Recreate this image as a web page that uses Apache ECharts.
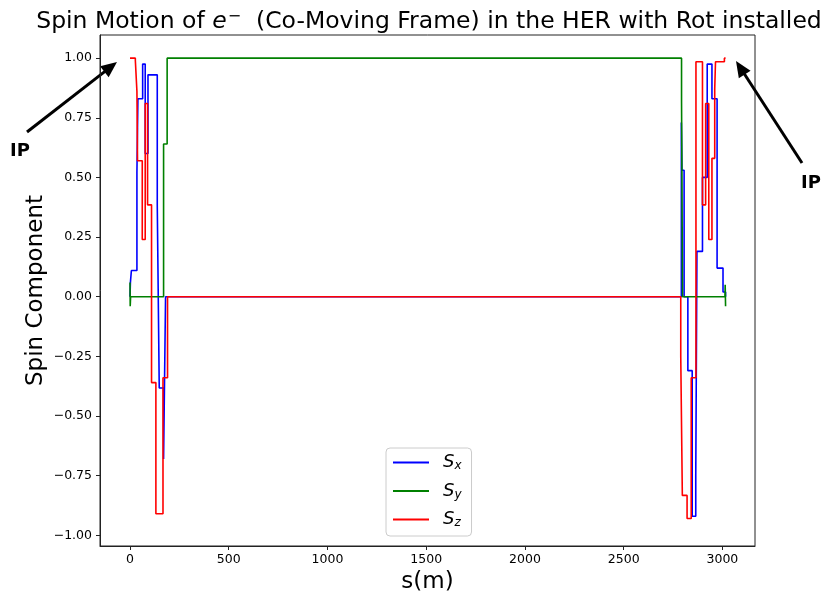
<!DOCTYPE html>
<html><head><meta charset="utf-8">
<script src="https://cdn.jsdelivr.net/npm/echarts@6/dist/echarts.min.js"></script>
<style>html,body{margin:0;padding:0;background:#fff}#c{width:831px;height:595px}</style>
</head><body><div id="c"></div>
<script>
// ---- data (s in metres, spin component value) ----
const xTicks = [0, 500, 1000, 1500, 2000, 2500, 3000];
const yTicks = [-1, -0.75, -0.5, -0.25, 0, 0.25, 0.5, 0.75, 1];
const seriesNames = ['Sx', 'Sy', 'Sz'];
const sxData = [
  [0, 0.0], [2, 0.06], [7, 0.11], [35, 0.52], [40, 0.83], [64, 0.975], [77, 0.6], [91, 0.93],
  [138, 0.385], [148, -0.383], [170, -0.68], [180, 0.0],
  [2792, 0.73], [2795, 0.53], [2806, 0.0], [2825, -0.31], [2847, -0.92], [2865, -0.75], [2871, 0.19],
  [2899, 0.5], [2923, 0.975], [2947, 0.83], [2973, 0.12], [3003, 0.02], [3016, 0.0]
];
const syData = [
  [0, 0.06], [1, -0.04], [3, 0.0], [170, 0.64], [188, 1.0],
  [2793, 0.82], [2798, 0.0], [3013, 0.0], [3014, 0.05], [3016, -0.04]
];
const szData = [
  [0, 1.0], [27, 0.99], [35, 0.86], [38, 0.57], [62, 0.24], [77, 0.81], [89, 0.385],
  [109, -0.36], [131, -0.91], [167, -0.34], [190, 0.0],
  [2789, -0.25], [2797, -0.833], [2821, -0.93], [2842, -0.34], [2866, 0.985], [2899, 0.385],
  [2915, 0.81], [2931, 0.24], [2947, 0.58], [2961, 0.87], [2965, 0.985], [3010, 1.0], [3016, 1.0]
];
const seriesColors = ['#0000ff', '#008000', '#ff0000'];

const FONT = 'DejaVu Sans';
const chart = echarts.init(document.getElementById('c'), null, {renderer: 'canvas'});

function arrow(x1, y1, x2, y2) {
  const dx = x2 - x1, dy = y2 - y1, L = Math.hypot(dx, dy);
  const ux = dx / L, uy = dy / L, hl = 16, hw = 7;
  const bx = x2 - ux * hl, by = y2 - uy * hl;
  return [
    {type: 'line', shape: {x1: x1, y1: y1, x2: bx + ux * 2, y2: by + uy * 2}, style: {stroke: '#000', lineWidth: 3}},
    {type: 'polygon', shape: {points: [[x2, y2], [bx - uy * hw, by + ux * hw], [bx + uy * hw, by - ux * hw]]}, style: {fill: '#000'}}
  ];
}

const minusFmt = v => v.toFixed(2).replace('-', '\u2212');

chart.setOption({
  animation: false,
  backgroundColor: '#fff',
  title: {
    text: '{t|Spin Motion of }{e|e}{sup|\u2212}{t|  (Co-Moving Frame) in the HER with Rot installed}',
    left: 424, top: 4, textAlign: 'center',
    textStyle: {
      fontWeight: 'normal',
      rich: {
        t: {fontFamily: FONT, fontSize: 23.5, fontWeight: 'normal', color: '#000'},
        e: {fontFamily: FONT, fontSize: 23.5, fontWeight: 'normal', fontStyle: 'italic', color: '#000'},
        sup: {fontFamily: FONT, fontSize: 16, fontWeight: 'normal', color: '#000', padding: [0, 0, 10, 1]}
      }
    }
  },
  grid: {left: 100, right: 76, top: 35, bottom: 49, show: true, borderColor: '#222', borderWidth: 1,
         containLabel: false, outerBoundsMode: 'none'},
  legend: {
    data: seriesNames,
    orient: 'vertical', left: 386, top: 448,
    icon: 'rect', itemWidth: 36, itemHeight: 2, itemGap: 9.5,
    padding: [5, 10, 7, 7],
    borderColor: '#ccc', borderWidth: 1, borderRadius: 4, backgroundColor: '#fff',
    formatter: n => '{s|S}{sub|' + n.slice(1) + '}',
    textStyle: {
      rich: {
        s: {fontFamily: FONT, fontSize: 18, fontStyle: 'italic', color: '#000', padding: [0, 0, 0, 9], lineHeight: 20},
        sub: {fontFamily: FONT, fontSize: 12, fontStyle: 'italic', color: '#000', padding: [7, 0, 0, 0], lineHeight: 20}
      }
    }
  },
  xAxis: {
    type: 'value', min: -152, max: 3165,
    name: 's(m)', nameLocation: 'middle', nameGap: 24,
    nameTextStyle: {fontFamily: FONT, fontSize: 23, color: '#000'},
    axisLine: {show: true, onZero: false, lineStyle: {color: '#222'}},
    axisTick: {show: true, customValues: xTicks, length: 4, lineStyle: {color: '#222'}},
    axisLabel: {customValues: xTicks, formatter: v => String(v), fontFamily: FONT, fontSize: 12.5, color: '#000', margin: 7},
    splitLine: {show: false}
  },
  yAxis: {
    type: 'value', min: -1.045, max: 1.097,
    name: 'Spin Component', nameLocation: 'middle', nameGap: 52, nameMoveOverlap: false,
    nameTextStyle: {fontFamily: FONT, fontSize: 23, color: '#000'},
    axisLine: {show: true, onZero: false, lineStyle: {color: '#222'}},
    axisTick: {show: true, customValues: yTicks, length: 4, lineStyle: {color: '#222'}},
    axisLabel: {customValues: yTicks, formatter: minusFmt, fontFamily: FONT, fontSize: 12.5, color: '#000', margin: 8},
    splitLine: {show: false}
  },
  series: [sxData, syData, szData].map((d, i) => ({
    name: seriesNames[i], type: 'line', step: 'end', data: d,
    symbol: 'none', color: seriesColors[i],
    lineStyle: {width: 1.6, color: seriesColors[i]}
  })),
  graphic: [
    ...arrow(27, 132, 117, 62),
    ...arrow(802, 163, 736, 61),
    {type: 'text', left: 10, top: 142, style: {text: 'IP', font: 'bold 18px "DejaVu Sans"', fill: '#000'}},
    {type: 'text', left: 801, top: 174, style: {text: 'IP', font: 'bold 18px "DejaVu Sans"', fill: '#000'}}
  ]
});
</script>
</body></html>
